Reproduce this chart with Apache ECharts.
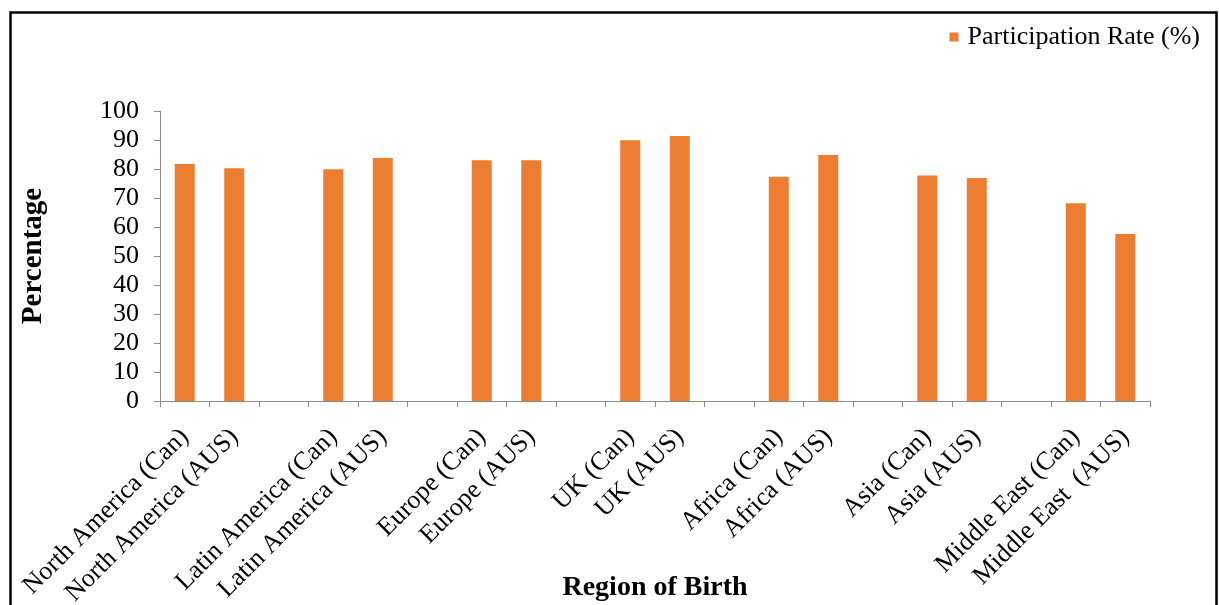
<!DOCTYPE html>
<html>
<head>
<meta charset="utf-8">
<script src="https://cdn.jsdelivr.net/npm/echarts@6/dist/echarts.min.js"></script>
<style>html,body{margin:0;padding:0;background:#fff}#c{width:1219px;height:605px}</style>
</head>
<body>
<div id="c"></div>
<script>
const categories = ["North America (Can)", "North America (AUS)", "", "Latin America (Can)", "Latin America (AUS)", "", "Europe (Can)", "Europe (AUS)", "", "UK (Can)", "UK (AUS)", "", "Africa (Can)", "Africa (AUS)", "", "Asia (Can)", "Asia (AUS)", "", "Middle East (Can)", "Middle East  (AUS)"];
const participationRate = [81.7, 80.3, null, 79.9, 83.8, null, 83.0, 83.0, null, 89.9, 91.4, null, 77.3, 84.8, null, 77.8, 76.9, null, 68.2, 57.6];
const yTicks = { min: 0, max: 100, interval: 10 };
const seriesName = "Participation Rate (%)";
const xAxisTitle = "Region of Birth";
const yAxisTitle = "Percentage";

const chart = echarts.init(document.getElementById('c'), null, { renderer: 'canvas' });
const serif = '"Liberation Serif", "Times New Roman", serif';
chart.setOption({
  animation: false,
  backgroundColor: '#fff',
  textStyle: { fontFamily: serif },
  graphic: [{
    type: 'rect', left: 8, top: 10,
    shape: { x: 0, y: 0, width: 1206, height: 640 },
    style: { fill: 'none', stroke: '#000', lineWidth: 2.5 },
    z: 100
  }, {
    type: 'text', x: 655, y: 588,
    style: {
      text: xAxisTitle, fill: '#000', font: 'bold 28px ' + serif,
      align: 'center', verticalAlign: 'middle'
    },
    z: 50
  }],
  legend: {
    right: 14, top: 19,
    itemWidth: 9, itemHeight: 9, itemGap: 6,
    icon: 'rect',
    textStyle: { fontFamily: serif, fontSize: 26, color: '#000', padding: [0, 0, 0, 4] },
    data: [seriesName]
  },
  grid: { left: 160, right: 69, top: 111, bottom: 204, containLabel: false, outerBoundsMode: 'none' },
  xAxis: {
    type: 'category',
    data: categories,
    axisLine: { lineStyle: { color: '#8c8c8c', width: 1 } },
    axisTick: { show: true, alignWithLabel: false, length: 6, lineStyle: { color: '#8c8c8c' } },
    axisLabel: { rotate: 45, interval: 0, margin: 32, fontFamily: serif, fontSize: 26, color: '#000' }
  },
  yAxis: {
    type: 'value',
    min: yTicks.min, max: yTicks.max, interval: yTicks.interval,
    name: yAxisTitle,
    nameLocation: 'middle',
    nameGap: 112,
    nameRotate: 90,
    nameTextStyle: { fontFamily: serif, fontSize: 29, fontWeight: 'bold', color: '#000' },
    axisLine: { show: true, lineStyle: { color: '#8c8c8c', width: 1 } },
    axisTick: { show: true, length: 6, lineStyle: { color: '#8c8c8c' } },
    splitLine: { show: false },
    axisLabel: { margin: 21, fontFamily: serif, fontSize: 26, color: '#000' }
  },
  series: [{
    name: seriesName,
    type: 'bar',
    data: participationRate,
    barWidth: 20,
    itemStyle: { color: '#ED7D31' }
  }]
});
</script>
</body>
</html>
